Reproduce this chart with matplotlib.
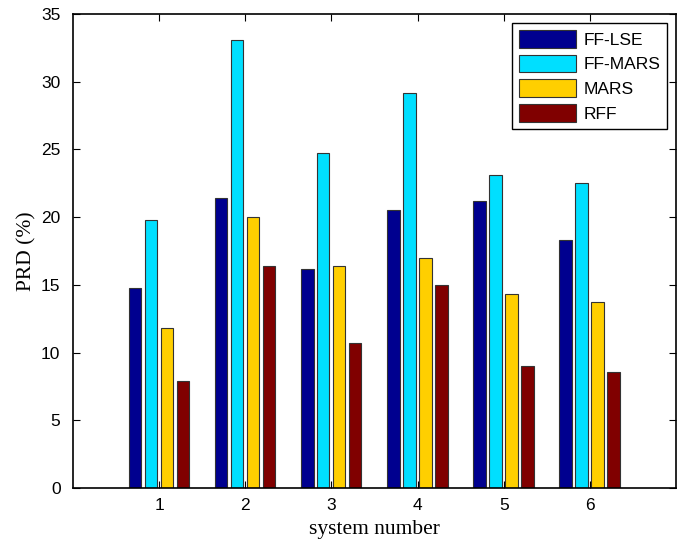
import matplotlib
matplotlib.use("Agg")
import matplotlib.pyplot as plt
import numpy as np

systems = [1, 2, 3, 4, 5, 6]
series_names = ["FF-LSE", "FF-MARS", "MARS", "RFF"]
ff_lse = [14.8, 21.4, 16.2, 20.5, 21.2, 18.3]
ff_mars = [19.8, 33.1, 24.7, 29.2, 23.1, 22.5]
mars = [11.8, 20.0, 16.4, 17.0, 14.3, 13.7]
rff = [7.9, 16.4, 10.7, 15.0, 9.0, 8.6]
colors = ["#00008F", "#00DFFF", "#FFCF00", "#800000"]

fig = plt.figure(figsize=(6.83, 5.47), dpi=100)
ax = fig.add_axes([73 / 683, (547 - 488) / 547, 603 / 683, 474 / 547])

x = np.array(systems, dtype=float)
offsets = [-0.28, -0.095, 0.09, 0.275]
width = 0.145
for vals, name, color, off in zip([ff_lse, ff_mars, mars, rff],
                                  series_names, colors, offsets):
    ax.bar(x + off, vals, width, color=color, edgecolor="#333333",
           linewidth=0.8, label=name)

ax.set_xlim(0, 7)
ax.set_ylim(0, 35)
ax.set_xticks(systems)
ax.set_yticks(np.arange(0, 36, 5))
ax.tick_params(direction="in", top=True, right=True, length=5, width=0.8,
               labelsize=12.5)
ax.tick_params(axis="x", pad=7)
ax.tick_params(axis="y", pad=9)
for lab in ax.get_xticklabels() + ax.get_yticklabels():
    lab.set_family("Liberation Sans")
for sp in ax.spines.values():
    sp.set_linewidth(1.2)

ax.set_xlabel("system number", family="Liberation Serif", fontsize=15.5,
              labelpad=5)
ax.set_ylabel("PRD (%)", family="Liberation Serif", fontsize=15.5,
              labelpad=3)

leg = ax.legend(loc="upper right", bbox_to_anchor=(0.985, 0.981),
                borderaxespad=0,
                prop={"family": "Liberation Sans", "size": 12.5},
                fancybox=False, edgecolor="black", framealpha=1,
                handlelength=3.3, handleheight=1.2, handletextpad=0.4,
                borderpad=0.4, labelspacing=0.4)
leg.get_frame().set_linewidth(1.0)

fig.savefig("out.png", dpi=100)
